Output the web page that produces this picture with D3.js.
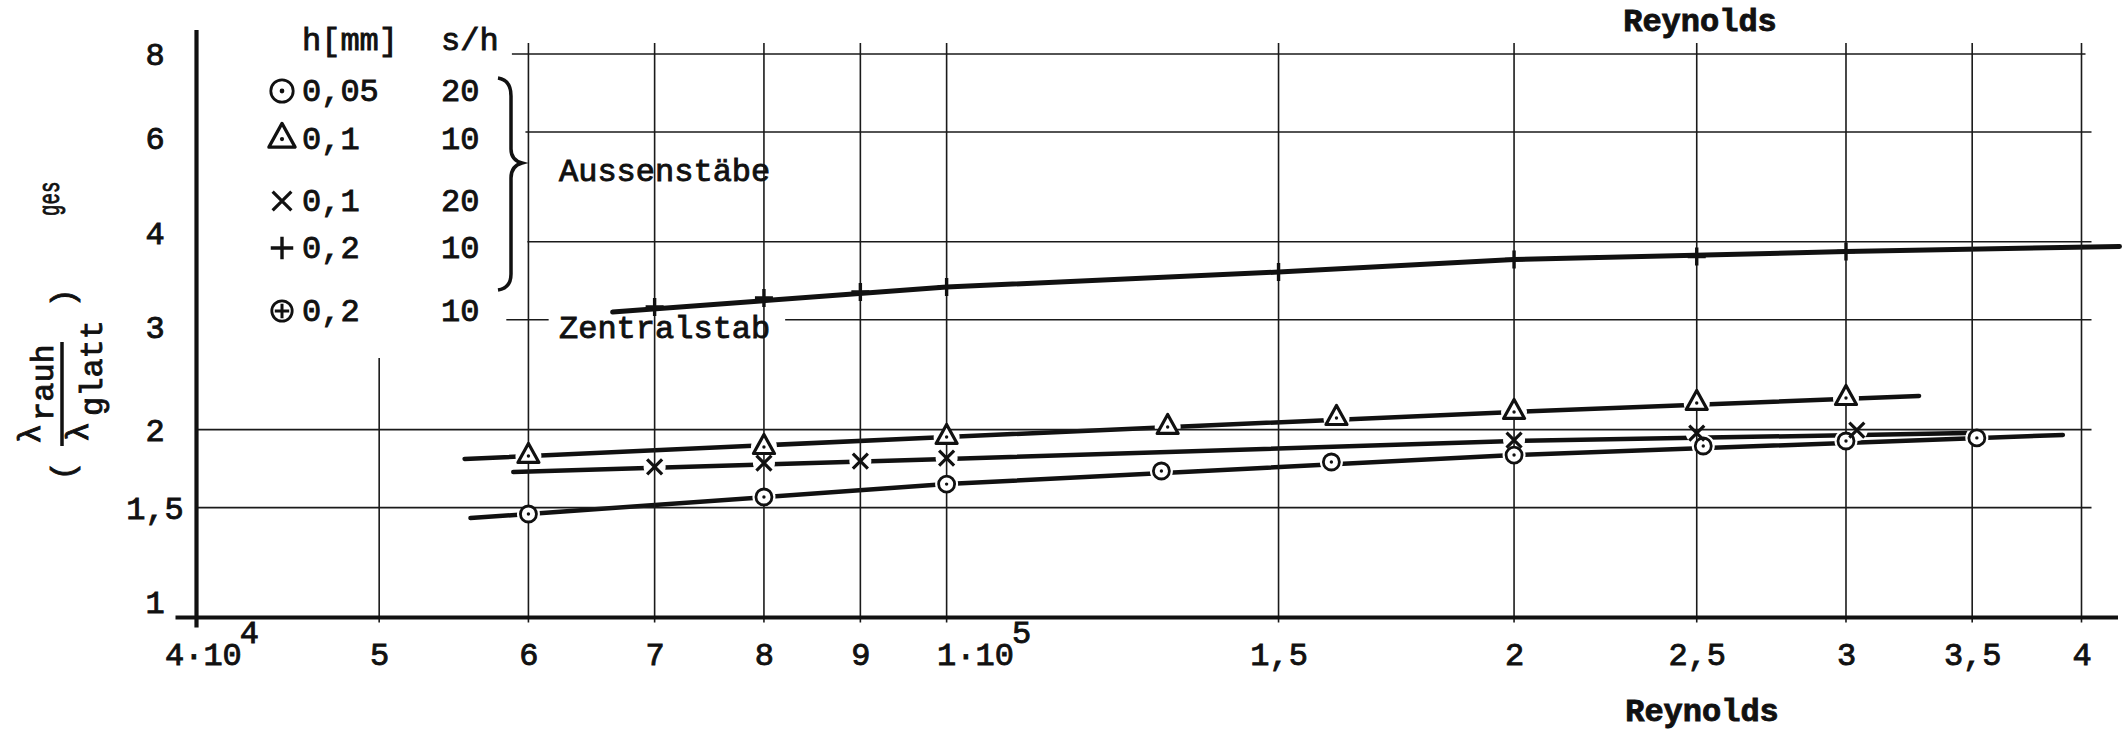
<!DOCTYPE html>
<html><head><meta charset="utf-8">
<script src="https://cdn.jsdelivr.net/npm/d3@7"></script>
<style>
body{margin:0;background:#fff;}
svg{display:block;background:#fff;}
text{font-family:"Liberation Mono","DejaVu Sans Mono",monospace;fill:#111;stroke:#111;stroke-width:0.9px;}
</style></head><body>
<svg id="chart" width="2125" height="732"></svg>
<script>
// ---------------- data ----------------
const xTickValues = [4e4, 5e4, 6e4, 7e4, 8e4, 9e4, 1e5, 1.5e5, 2e5, 2.5e5, 3e5, 3.5e5, 4e5];
const xTickLabels = ["4·10^4", "5", "6", "7", "8", "9", "1·10^5", "1,5", "2", "2,5", "3", "3,5", "4"];
const yTickValues = [1, 1.5, 2, 3, 4, 6, 8];
const yTickLabels = ["1", "1,5", "2", "3", "4", "6", "8"];

// h = 0,05 mm, s/h = 20 (circle with dot)
const reCircle  = [6e4, 8e4, 1e5, 1.3e5, 1.6e5, 2e5, 2.52e5, 3e5, 3.52e5];
const lamCircle = [1.465, 1.560, 1.636, 1.717, 1.775, 1.821, 1.883, 1.918, 1.940];
const lineCircle = [[5.59e4, 1.443], [1e5, 1.636], [2e5, 1.821], [3.91e5, 1.961]];

// h = 0,1 mm, s/h = 10 (triangle)
const reTriangle  = [6e4, 8e4, 1e5, 1.31e5, 1.61e5, 2e5, 2.5e5, 3e5];
const lamTriangle = [1.815, 1.876, 1.947, 2.020, 2.088, 2.135, 2.207, 2.248];
const lineTriangle = [[5.55e4, 1.795], [1e5, 1.947], [2e5, 2.135], [3.28e5, 2.265]];

// h = 0,1 mm, s/h = 20 (cross)
const reCross  = [7e4, 8e4, 9e4, 1e5, 2e5, 2.5e5, 3.04e5];
const lamCross = [1.743, 1.768, 1.781, 1.801, 1.925, 1.975, 1.997];
const lineCross = [[5.89e4, 1.711], [1e5, 1.795], [2e5, 1.918], [3.48e5, 1.975]];

// h = 0,2 mm, s/h = 10 (plus)
const rePlus  = [7e4, 8e4, 9e4, 1e5, 1.5e5, 2e5, 2.5e5, 3e5];
const lamPlus = [3.145, 3.251, 3.324, 3.385, 3.578, 3.747, 3.788, 3.859];
const linePlus = [[6.65e4, 3.087], [1e5, 3.385], [1.5e5, 3.578], [2e5, 3.747], [3e5, 3.859], [4.19e5, 3.932]];

// legend
const legendSymbols = ["circle", "triangle", "cross", "plus", "circleplus"];
const legendH  = ["0,05", "0,1", "0,1", "0,2", "0,2"];
const legendSH = ["20", "10", "20", "10", "10"];
const legendHeader = ["h[mm]", "s/h"];
const groupLabels = ["Aussenstäbe", "Zentralstab"];
const xTitle = "Reynolds";

// ---------------- drawing ----------------
const svg = d3.select("#chart");
const x = d3.scaleLog().domain([4e4, 4e5]).range([196.5, 2081.5]);
const y = d3.scaleLog().domain([1, 8]).range([617.5, 617.5 - 624 * Math.log10(8)]);
const X0 = x.range()[0], X1 = x.range()[1], Y0 = y(1), YT = y(8);
const FS = 32;

// data lines
const line = d3.line().x(d => x(d[0])).y(d => y(d[1]));
const gLines = svg.append("g");
[lineCircle, lineTriangle, lineCross, linePlus].forEach((L, i) => {
  gLines.append("path").attr("d", line(L)).attr("fill", "none")
    .attr("stroke", "#111").attr("stroke-width", i === 3 ? 5 : 4.5)
    .attr("stroke-linecap", "round");
});

// white gaps around markers (line interrupted near symbols)
const gHalo = svg.append("g");
function halo(re, lam, r) {
  re.forEach((d, i) => gHalo.append("circle").attr("cx", x(d)).attr("cy", y(lam[i])).attr("r", r).attr("fill", "#fff"));
}
halo(reCircle, lamCircle, 11.5);
halo(reTriangle, lamTriangle, 13);
halo(reCross, lamCross, 11);

// grid
const gGrid = svg.append("g").attr("stroke", "#1a1a1a").attr("stroke-width", 1.6);
const hStart = {1.5: X0, 2: X0, 4: x(6e4) - 1, 6: x(6e4) - 3, 8: x(5.88e4)};
yTickValues.filter(v => v > 1).forEach(v => {
  const yy = y(v);
  if (v === 3) {
    gGrid.append("line").attr("x1", x(5.84e4)).attr("x2", x(6.15e4)).attr("y1", yy).attr("y2", yy);
    gGrid.append("line").attr("x1", x(8.21e4)).attr("x2", X1 + 10).attr("y1", yy).attr("y2", yy);
  } else {
    gGrid.append("line").attr("x1", hStart[v]).attr("x2", X1 + (v === 8 ? 4 : 10)).attr("y1", yy).attr("y2", yy);
  }
});
xTickValues.filter(v => v > 4e4).forEach(v => {
  const top = v === 5e4 ? y(2.605) : YT - 11;
  gGrid.append("line").attr("x1", x(v)).attr("x2", x(v)).attr("y1", top).attr("y2", Y0 + 5);
});

// axes (thick lines)
svg.append("line").attr("x1", X0).attr("x2", X0).attr("y1", 30).attr("y2", Y0 + 10)
  .attr("stroke", "#111").attr("stroke-width", 4.2);
svg.append("line").attr("x1", X0 - 21).attr("x2", 2118).attr("y1", Y0).attr("y2", Y0)
  .attr("stroke", "#111").attr("stroke-width", 4);

// markers
function marker(g, type, cx, cy, s) {
  const m = g.append("g").attr("transform", `translate(${cx},${cy})`)
    .attr("stroke", "#111").attr("fill", "#fff");
  if (type === "circle") {
    m.append("circle").attr("r", 8 * s).attr("stroke-width", 2.8);
    m.append("circle").attr("r", 1.7 * s).attr("fill", "#111").attr("stroke", "none");
  } else if (type === "triangle") {
    m.append("path").attr("d", `M0,${-12.5 * s}L${10.5 * s},${6.5 * s}L${-10.5 * s},${6.5 * s}Z`)
      .attr("stroke-width", 3.2).attr("stroke-linejoin", "round");
    m.append("circle").attr("r", 1.7 * s).attr("fill", "#111").attr("stroke", "none");
  } else if (type === "cross") {
    const a = 7.5 * s;
    m.append("path").attr("d", `M${-a},${-a}L${a},${a}M${-a},${a}L${a},${-a}`).attr("stroke-width", 3.2);
  } else if (type === "plus") {
    const a = 9 * s;
    m.append("path").attr("d", `M${-a},0L${a},0M0,${-a}L0,${a}`).attr("stroke-width", 3.4);
  } else if (type === "circleplus") {
    m.append("circle").attr("r", 8.5 * s).attr("stroke-width", 2.8);
    const a = 6 * s;
    m.append("path").attr("d", `M${-a},0L${a},0M0,${-a}L0,${a}`).attr("stroke-width", 3);
  }
}
const gMarks = svg.append("g");
reCircle.forEach((d, i) => marker(gMarks, "circle", x(d), y(lamCircle[i]), 1));
reTriangle.forEach((d, i) => marker(gMarks, "triangle", x(d), y(lamTriangle[i]), 1));
reCross.forEach((d, i) => marker(gMarks, "cross", x(d), y(lamCross[i]), 1));
rePlus.forEach((d, i) => marker(gMarks, "plus", x(d), y(lamPlus[i]), 1));

// x axis tick labels
const gx = svg.append("g").attr("transform", `translate(0,${Y0})`)
  .call(d3.axisBottom(x).tickValues(xTickValues).tickFormat((d, i) => xTickLabels[i]).tickSize(0));
gx.select(".domain").remove();
gx.selectAll("text").each(function(d, i) {
  const t = d3.select(this);
  const lab = xTickLabels[i];
  t.attr("y", 47).attr("dy", null).attr("font-size", FS).attr("font-family", null).attr("fill", "#111");
  if (lab.includes("^")) {
    const [base, sup] = lab.split("^");
    t.text(null).attr("text-anchor", "start").attr("x", d === 4e4 ? -32 : -10);
    t.append("tspan").text(base);
    t.append("tspan").attr("dy", -22).attr("dx", -2).text(sup);
  }
});

// y axis tick labels
const yNudge = {1: -16, 3: 7, 4: -9, 6: 6};
const gy = svg.append("g").attr("transform", `translate(${X0},0)`)
  .call(d3.axisLeft(y).tickValues(yTickValues).tickFormat((d, i) => yTickLabels[i]).tickSize(0));
gy.select(".domain").remove();
gy.selectAll("text").attr("x", 155 - X0).attr("text-anchor", "middle")
  .attr("dy", d => (11 + (yNudge[d] || 0)) + "px").attr("font-size", FS).attr("font-family", null).attr("fill", "#111");

// y axis title ( λrauh / λglatt ) ges  -- rotated
const gt = svg.append("g").attr("transform", "translate(62,330) rotate(-90)").attr("font-size", FS);
gt.append("text").attr("x", -141).attr("y", 11).attr("text-anchor", "middle").text("(");
gt.append("text").attr("x", -104).attr("y", -22).attr("text-anchor", "middle").text("λ");
gt.append("text").attr("x", -91).attr("y", -9).text("rauh");
gt.append("line").attr("x1", -116).attr("x2", -12).attr("y1", 0).attr("y2", 0)
  .attr("stroke", "#111").attr("stroke-width", 3.5);
gt.append("text").attr("x", -102).attr("y", 26).attr("text-anchor", "middle").text("λ");
gt.append("text").attr("x", -86).attr("y", 40).text("glatt");
gt.append("text").attr("x", 32).attr("y", 11).attr("text-anchor", "middle").text(")");
gt.append("text").attr("transform", "translate(114,-3) scale(0.64,1)").attr("font-size", 30).text("ges");

// legend
const gL = svg.append("g").attr("font-size", FS);
gL.append("text").attr("x", 302).attr("y", 50).text(legendHeader[0]);
gL.append("text").attr("x", 441).attr("y", 50).text(legendHeader[1]);
const rowBase = [101, 149, 211, 258, 321];
legendSymbols.forEach((s, i) => {
  marker(gL, s, 282, rowBase[i] - 10, s === "circleplus" ? 1.2 : (s === "circle" ? 1.4 : 1.25));
  gL.append("text").attr("x", 302).attr("y", rowBase[i]).text(legendH[i]);
  gL.append("text").attr("x", 441).attr("y", rowBase[i]).text(legendSH[i]);
});
// brace
svg.append("path")
  .attr("d", "M498,78 Q511,80 511,96 L511,149 Q511,160 522,163 Q511,166 511,178 L511,274 Q511,288 498,290")
  .attr("fill", "none").attr("stroke", "#111").attr("stroke-width", 3.5);

svg.append("text").attr("x", 559).attr("y", 181).attr("font-size", FS).text(groupLabels[0]);
svg.append("text").attr("x", 559).attr("y", 338).attr("font-size", FS).text(groupLabels[1]);

// axis titles
svg.append("text").attr("x", 1700).attr("y", 31).attr("text-anchor", "middle")
  .attr("font-size", FS).attr("font-weight", "bold").text(xTitle);
svg.append("text").attr("x", 1702).attr("y", 721).attr("text-anchor", "middle")
  .attr("font-size", FS).attr("font-weight", "bold").text(xTitle);
</script>
</body></html>
